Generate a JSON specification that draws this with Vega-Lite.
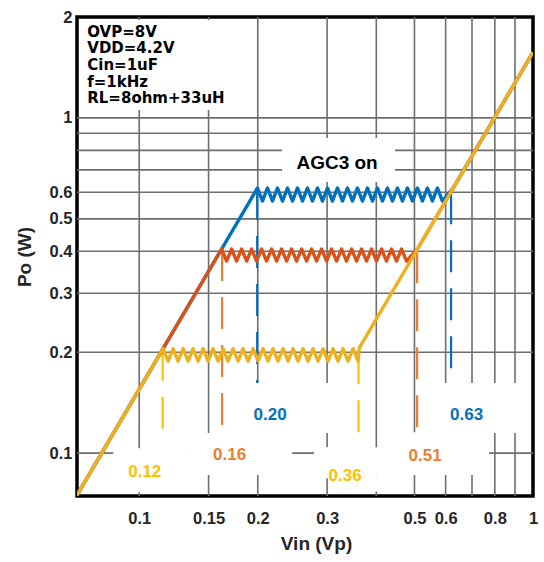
{
  "$schema": "https://vega.github.io/schema/vega-lite/v6.json",
  "width": 456,
  "height": 479,
  "autosize": {"type": "none"},
  "padding": {"left": 77, "top": 17, "right": 11, "bottom": 66},
  "background": "white",
  "config": {
    "font": "Liberation Sans",
    "view": {"stroke": "#000000", "strokeWidth": 3.5}
  },
  "datasets": {
    "gx": [{"x": 0.1}, {"x": 0.15}, {"x": 0.2}, {"x": 0.3}, {"x": 0.4}, {"x": 0.5}, {"x": 0.6}, {"x": 0.7}, {"x": 0.8}, {"x": 0.9}],
    "gy": [{"y": 0.1}, {"y": 0.2}, {"y": 0.3}, {"y": 0.4}, {"y": 0.5}, {"y": 0.6}, {"y": 0.7}, {"y": 0.8}, {"y": 0.9}, {"y": 1}],
    "dash": [
      {"s": "y", "x": 0.1147, "y": 0.205, "y2": 0.1116},
      {"s": "y", "x": 0.3606, "y": 0.2, "y2": 0.11},
      {"s": "o", "x": 0.1624, "y": 0.4064, "y2": 0.1155},
      {"s": "o", "x": 0.5077, "y": 0.4, "y2": 0.1155},
      {"s": "b", "x": 0.1993, "y": 0.618, "y2": 0.1618},
      {"s": "b", "x": 0.6194, "y": 0.6, "y2": 0.1618}
    ],
    "box": [
      {"x": 0.0712, "x2": 0.1753, "y": 1.0565, "y2": 1.96},
      {"x": 0.2306, "x2": 0.4463, "y": 0.644, "y2": 0.8716},
      {"x": 0.0859, "x2": 0.1347, "y": 0.0765, "y2": 0.1035},
      {"x": 0.1347, "x2": 0.2445, "y": 0.086, "y2": 0.1148},
      {"x": 0.1753, "x2": 0.3162, "y": 0.1148, "y2": 0.1618},
      {"x": 0.278, "x2": 0.4463, "y": 0.0842, "y2": 0.1042},
      {"x": 0.3237, "x2": 0.4463, "y": 0.0768, "y2": 0.0842},
      {"x": 0.4386, "x2": 0.7731, "y": 0.086, "y2": 0.1155},
      {"x": 0.5543, "x2": 0.9884, "y": 0.1148, "y2": 0.1618}
    ],
    "blue": [
      {"x": 0.0693, "y": 0.0745},
      {"x": 0.1997, "y": 0.618}, {"x": 0.2056, "y": 0.565}, {"x": 0.2117, "y": 0.618}, {"x": 0.218, "y": 0.565},
      {"x": 0.2245, "y": 0.618}, {"x": 0.2311, "y": 0.565}, {"x": 0.238, "y": 0.618}, {"x": 0.245, "y": 0.565},
      {"x": 0.2523, "y": 0.618}, {"x": 0.2598, "y": 0.565}, {"x": 0.2675, "y": 0.618}, {"x": 0.2754, "y": 0.565},
      {"x": 0.2836, "y": 0.618}, {"x": 0.292, "y": 0.565}, {"x": 0.3006, "y": 0.618}, {"x": 0.3095, "y": 0.565},
      {"x": 0.3187, "y": 0.618}, {"x": 0.3282, "y": 0.565}, {"x": 0.3379, "y": 0.618}, {"x": 0.3479, "y": 0.565},
      {"x": 0.3582, "y": 0.618}, {"x": 0.3689, "y": 0.565}, {"x": 0.3798, "y": 0.618}, {"x": 0.3911, "y": 0.565},
      {"x": 0.4027, "y": 0.618}, {"x": 0.4146, "y": 0.565}, {"x": 0.4269, "y": 0.618}, {"x": 0.4396, "y": 0.565},
      {"x": 0.4526, "y": 0.618}, {"x": 0.466, "y": 0.565}, {"x": 0.4798, "y": 0.618}, {"x": 0.494, "y": 0.565},
      {"x": 0.5087, "y": 0.618}, {"x": 0.5238, "y": 0.565}, {"x": 0.5393, "y": 0.618}, {"x": 0.5553, "y": 0.565},
      {"x": 0.5718, "y": 0.618}, {"x": 0.5887, "y": 0.565},
      {"x": 0.6274, "y": 0.618}, {"x": 1, "y": 1.57}
    ],
    "red": [
      {"x": 0.0693, "y": 0.0745},
      {"x": 0.1619, "y": 0.4064}, {"x": 0.1667, "y": 0.374}, {"x": 0.1716, "y": 0.4064}, {"x": 0.1767, "y": 0.374},
      {"x": 0.182, "y": 0.4064}, {"x": 0.1874, "y": 0.374}, {"x": 0.1929, "y": 0.4064}, {"x": 0.1986, "y": 0.374},
      {"x": 0.2045, "y": 0.4064}, {"x": 0.2106, "y": 0.374}, {"x": 0.2168, "y": 0.4064}, {"x": 0.2233, "y": 0.374},
      {"x": 0.2299, "y": 0.4064}, {"x": 0.2367, "y": 0.374}, {"x": 0.2437, "y": 0.4064}, {"x": 0.251, "y": 0.374},
      {"x": 0.2584, "y": 0.4064}, {"x": 0.2661, "y": 0.374}, {"x": 0.274, "y": 0.4064}, {"x": 0.2821, "y": 0.374},
      {"x": 0.2904, "y": 0.4064}, {"x": 0.2991, "y": 0.374}, {"x": 0.3079, "y": 0.4064}, {"x": 0.3171, "y": 0.374},
      {"x": 0.3265, "y": 0.4064}, {"x": 0.3361, "y": 0.374}, {"x": 0.3461, "y": 0.4064}, {"x": 0.3564, "y": 0.374},
      {"x": 0.3669, "y": 0.4064}, {"x": 0.3778, "y": 0.374}, {"x": 0.389, "y": 0.4064}, {"x": 0.4005, "y": 0.374},
      {"x": 0.4124, "y": 0.4064}, {"x": 0.4246, "y": 0.374}, {"x": 0.4372, "y": 0.4064}, {"x": 0.4502, "y": 0.374},
      {"x": 0.4636, "y": 0.4064}, {"x": 0.4773, "y": 0.374},
      {"x": 0.5088, "y": 0.4064}, {"x": 1, "y": 1.57}
    ],
    "yellow": [
      {"x": 0.0693, "y": 0.0745},
      {"x": 0.115, "y": 0.205}, {"x": 0.1184, "y": 0.188}, {"x": 0.1219, "y": 0.205}, {"x": 0.1255, "y": 0.188},
      {"x": 0.1293, "y": 0.205}, {"x": 0.1331, "y": 0.188}, {"x": 0.137, "y": 0.205}, {"x": 0.1411, "y": 0.188},
      {"x": 0.1453, "y": 0.205}, {"x": 0.1496, "y": 0.188}, {"x": 0.154, "y": 0.205}, {"x": 0.1586, "y": 0.188},
      {"x": 0.1633, "y": 0.205}, {"x": 0.1681, "y": 0.188}, {"x": 0.1731, "y": 0.205}, {"x": 0.1783, "y": 0.188},
      {"x": 0.1835, "y": 0.205}, {"x": 0.189, "y": 0.188}, {"x": 0.1946, "y": 0.205}, {"x": 0.2004, "y": 0.188},
      {"x": 0.2063, "y": 0.205}, {"x": 0.2124, "y": 0.188}, {"x": 0.2187, "y": 0.205}, {"x": 0.2252, "y": 0.188},
      {"x": 0.2319, "y": 0.205}, {"x": 0.2388, "y": 0.188}, {"x": 0.2458, "y": 0.205}, {"x": 0.2531, "y": 0.188},
      {"x": 0.2606, "y": 0.205}, {"x": 0.2684, "y": 0.188}, {"x": 0.2763, "y": 0.205}, {"x": 0.2845, "y": 0.188},
      {"x": 0.293, "y": 0.205}, {"x": 0.3016, "y": 0.188}, {"x": 0.3106, "y": 0.205}, {"x": 0.3198, "y": 0.188},
      {"x": 0.3293, "y": 0.205}, {"x": 0.339, "y": 0.188}, {"x": 0.3491, "y": 0.205}, {"x": 0.3594, "y": 0.188},
      {"x": 0.362, "y": 0.2057}, {"x": 1, "y": 1.57}
    ],
    "ann": [
      {"t": "0.12", "s": "y", "x": 0.1033, "y": 0.0848},
      {"t": "0.16", "s": "o", "x": 0.1697, "y": 0.0953},
      {"t": "0.20", "s": "b", "x": 0.215, "y": 0.1259},
      {"t": "0.36", "s": "y", "x": 0.3333, "y": 0.0827},
      {"t": "0.51", "s": "o", "x": 0.532, "y": 0.0946},
      {"t": "0.63", "s": "b", "x": 0.678, "y": 0.1255}
    ]
  },
  "layer": [
    {
      "data": {"name": "gx"},
      "mark": {"type": "rule", "color": "#6e6e6e", "strokeWidth": 1.6},
      "encoding": {
        "x": {
          "field": "x", "type": "quantitative",
          "scale": {"type": "log", "domain": [0.0695, 1]},
          "axis": {
            "values": [0.1, 0.15, 0.2, 0.3, 0.5, 0.6, 0.8, 1],
            "format": "~g", "title": "Vin (Vp)", "grid": false, "ticks": false, "domain": false,
            "labelFont": "Liberation Sans", "labelFontSize": 16.5, "labelFontWeight": "bold", "labelColor": "#262626",
            "labelPadding": 14, "labelDx": 5, "labelFlush": false, "labelOverlap": false,
            "titleFont": "Liberation Sans", "titleFontSize": 19, "titleFontWeight": "bold", "titleColor": "#262626",
            "titlePadding": 8, "titleX": 239
          }
        }
      }
    },
    {
      "data": {"name": "gy"},
      "mark": {"type": "rule", "color": "#6e6e6e", "strokeWidth": 1.6},
      "encoding": {
        "y": {
          "field": "y", "type": "quantitative",
          "scale": {"type": "log", "domain": [0.0745, 2]},
          "axis": {
            "values": [0.1, 0.2, 0.3, 0.4, 0.5, 0.6, 1, 2],
            "format": "~g", "title": "Po (W)", "grid": false, "ticks": false, "domain": false,
            "labelFont": "Liberation Sans", "labelFontSize": 16.5, "labelFontWeight": "bold", "labelColor": "#262626",
            "labelPadding": 5, "labelFlush": false, "labelOverlap": false,
            "titleFont": "Liberation Sans", "titleFontSize": 19, "titleFontWeight": "bold", "titleColor": "#262626",
            "titlePadding": 15
          }
        }
      }
    },
    {
      "data": {"name": "dash"},
      "mark": {"type": "rule", "strokeWidth": 2.2, "strokeDash": [32, 16]},
      "encoding": {
        "x": {"field": "x", "type": "quantitative", "scale": {"type": "log", "domain": [0.0695, 1]}},
        "y": {"field": "y", "type": "quantitative", "scale": {"type": "log", "domain": [0.0745, 2]}},
        "y2": {"field": "y2"},
        "color": {"field": "s", "type": "nominal", "scale": {"domain": ["y", "o", "b"], "range": ["#FFC000", "#ED7D31", "#0070C0"]}, "legend": null}
      }
    },
    {
      "data": {"name": "box"},
      "mark": {"type": "rect", "fill": "white", "strokeWidth": 0},
      "encoding": {
        "x": {"field": "x", "type": "quantitative", "scale": {"type": "log", "domain": [0.0695, 1]}},
        "x2": {"field": "x2"},
        "y": {"field": "y", "type": "quantitative", "scale": {"type": "log", "domain": [0.0745, 2]}},
        "y2": {"field": "y2"}
      }
    },
    {
      "data": {"name": "blue"},
      "mark": {"type": "line", "color": "#0072BD", "strokeWidth": 3.4, "strokeJoin": "round", "clip": true},
      "encoding": {
        "x": {"field": "x", "type": "quantitative", "scale": {"type": "log", "domain": [0.0695, 1]}},
        "y": {"field": "y", "type": "quantitative", "scale": {"type": "log", "domain": [0.0745, 2]}}
      }
    },
    {
      "data": {"name": "red"},
      "mark": {"type": "line", "color": "#D95319", "strokeWidth": 3.4, "strokeJoin": "round", "clip": true},
      "encoding": {
        "x": {"field": "x", "type": "quantitative", "scale": {"type": "log", "domain": [0.0695, 1]}},
        "y": {"field": "y", "type": "quantitative", "scale": {"type": "log", "domain": [0.0745, 2]}}
      }
    },
    {
      "data": {"name": "yellow"},
      "mark": {"type": "line", "color": "#EDB120", "strokeWidth": 3.4, "strokeJoin": "round", "clip": true},
      "encoding": {
        "x": {"field": "x", "type": "quantitative", "scale": {"type": "log", "domain": [0.0695, 1]}},
        "y": {"field": "y", "type": "quantitative", "scale": {"type": "log", "domain": [0.0745, 2]}}
      }
    },
    {
      "data": {"name": "ann"},
      "mark": {"type": "text", "font": "Liberation Sans", "fontSize": 17, "fontWeight": "bold", "align": "center", "baseline": "alphabetic"},
      "encoding": {
        "x": {"field": "x", "type": "quantitative", "scale": {"type": "log", "domain": [0.0695, 1]}},
        "y": {"field": "y", "type": "quantitative", "scale": {"type": "log", "domain": [0.0745, 2]}},
        "text": {"field": "t"},
        "color": {"field": "s", "type": "nominal", "scale": {"domain": ["y", "o", "b"], "range": ["#FFC000", "#ED7D31", "#0070C0"]}, "legend": null}
      }
    },
    {
      "data": {"values": [{"x": 0.318, "y": 0.704, "t": "AGC3 on"}]},
      "mark": {"type": "text", "font": "Liberation Sans", "fontSize": 19, "fontWeight": "bold", "align": "center", "baseline": "alphabetic", "color": "#000000"},
      "encoding": {
        "x": {"field": "x", "type": "quantitative", "scale": {"type": "log", "domain": [0.0695, 1]}},
        "y": {"field": "y", "type": "quantitative", "scale": {"type": "log", "domain": [0.0745, 2]}},
        "text": {"field": "t"}
      }
    },
    {
      "data": {"values": [{"x": 0.0738, "y": 1.748, "t": ["OVP=8V", "VDD=4.2V", "Cin=1uF", "f=1kHz", "RL=8ohm+33uH"]}]},
      "mark": {"type": "text", "font": "DejaVu Sans", "fontSize": 15, "fontWeight": "bold", "align": "left", "baseline": "alphabetic", "lineHeight": 16.7, "color": "#000000"},
      "encoding": {
        "x": {"field": "x", "type": "quantitative", "scale": {"type": "log", "domain": [0.0695, 1]}},
        "y": {"field": "y", "type": "quantitative", "scale": {"type": "log", "domain": [0.0745, 2]}},
        "text": {"field": "t"}
      }
    }
  ]
}
